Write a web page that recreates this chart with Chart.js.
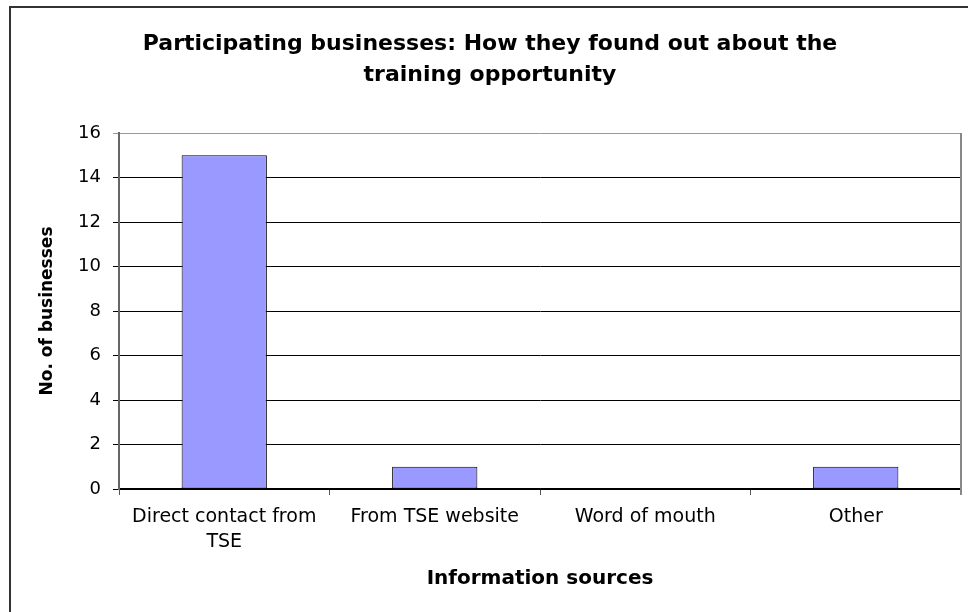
<!DOCTYPE html>
<html>
<head>
<meta charset="utf-8">
<script src="https://cdn.jsdelivr.net/npm/chart.js@4"></script>
<style>
  html, body { margin: 0; padding: 0; background: #fff; overflow: hidden; }
  #wrap { position: relative; width: 968px; height: 612px; }
  #frame { position: absolute; left: 9px; top: 6px; right: -10px; bottom: -10px;
           border-left: 2px solid #333; border-top: 2px solid #333; }
  canvas { position: absolute; left: 0; top: 0; }
</style>
</head>
<body>
<div id="wrap">
  <div id="frame"></div>
  <canvas id="chart" width="968" height="612"></canvas>
</div>
<script>
const titleLines = ['Participating businesses: How they found out about the', 'training opportunity'];
const categories = [['Direct contact from', 'TSE'], 'From TSE website', 'Word of mouth', 'Other'];
const businesses = [15, 1, 0, 1];
const yTicks = [0, 2, 4, 6, 8, 10, 12, 14, 16];
const xTitle = 'Information sources';
const yTitle = 'No. of businesses';

const font = '"DejaVu Sans", Verdana, sans-serif';

const ctx = document.getElementById('chart').getContext('2d');
new Chart(ctx, {
    type: 'bar',
    data: {
        labels: categories,
        datasets: [{
            label: 'Businesses',
            data: businesses,
            backgroundColor: '#9999ff',
            borderColor: '#000',
            borderWidth: 1,
            borderSkipped: false,
            barPercentage: 0.405,
            categoryPercentage: 1
        }]
    },
    options: {
        responsive: false,
        animation: false,
        layout: { padding: { left: 19, right: 7, top: 0, bottom: 0 } },
        plugins: {
            legend: { display: false },
            tooltip: { enabled: false },
            title: {
                display: true,
                text: titleLines,
                color: '#000',
                font: { family: font, size: 22, weight: 'bold', lineHeight: '31px' },
                padding: { top: 29, bottom: 42 }
            }
        },
        scales: {
            x: {
                offset: true,
                grid: { offset: true, drawOnChartArea: false, color: '#555', tickLength: 6, lineWidth: 1 },
                border: { color: '#000', width: 1.5 },
                ticks: { color: '#000', font: { family: font, size: 19, lineHeight: '25px' }, padding: 10, maxRotation: 0, autoSkip: false },
                title: { display: true, text: xTitle, color: '#000', font: { family: font, size: 20, weight: 'bold', lineHeight: '24px' }, padding: { top: 0, bottom: 21 } },
                afterFit: s => { s.height = 123; }
            },
            y: {
                min: 0,
                max: 16,
                afterBuildTicks: s => { s.ticks = yTicks.map(v => ({ value: v })); },
                grid: {
                    color: c => c.tick && c.tick.value === 16 ? '#999' : '#000',
                    lineWidth: 1,
                    tickLength: 6
                },
                border: { color: '#666', width: 2 },
                ticks: { color: '#000', font: { family: font, size: 18 }, padding: 12 },
                title: { display: true, text: yTitle, color: '#000', font: { family: font, size: 17, weight: 'bold', lineHeight: '20px' }, padding: { top: 19, bottom: 0 } },
                afterFit: s => { s.width = 100; }
            }
        }
    },
    plugins: [{
        id: 'rightEdge',
        afterDraw(chart) {
            const a = chart.chartArea, c = chart.ctx;
            c.save();
            c.strokeStyle = '#888';
            c.lineWidth = 2;
            c.beginPath();
            c.moveTo(a.right, a.top);
            c.lineTo(a.right, a.bottom + 6);
            c.stroke();
            c.restore();
        }
    }]
});
</script>
</body>
</html>
